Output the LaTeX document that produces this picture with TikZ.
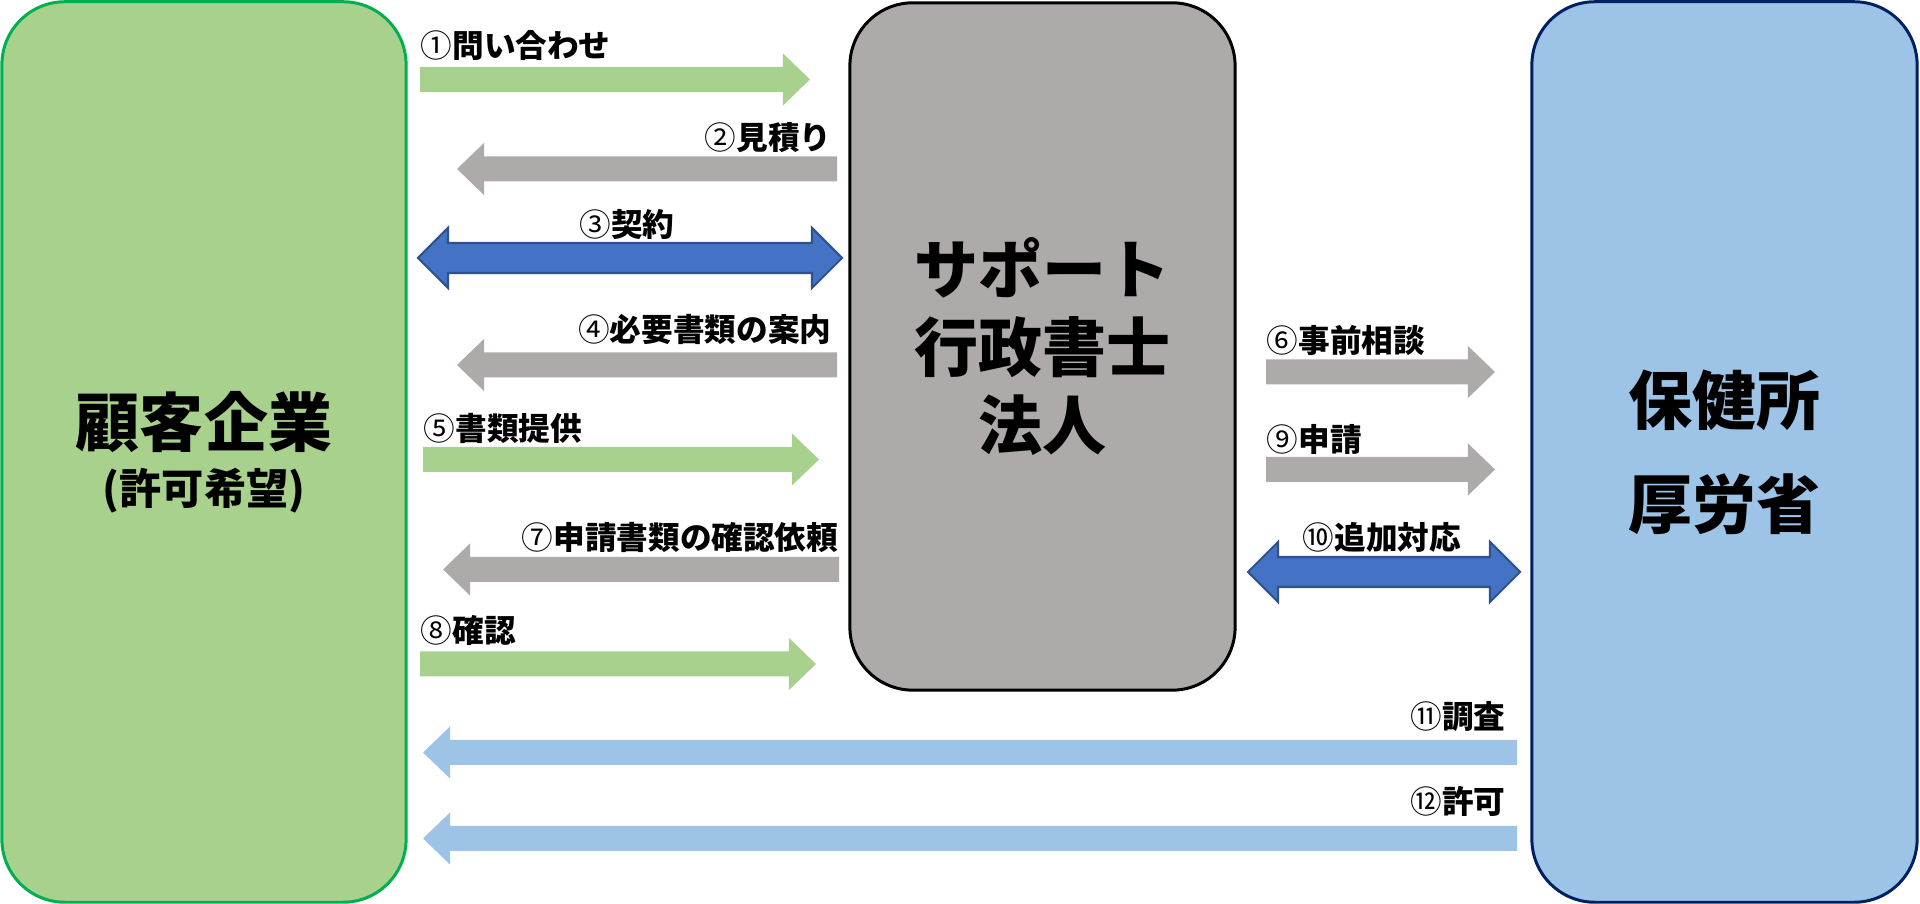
\documentclass[tikz,border=0pt]{standalone}
\usepackage{fontspec}
\setmainfont{Noto Sans CJK JP}
\usetikzlibrary{calc}

\definecolor{clientgreen}{HTML}{A9D18E}
\definecolor{clientline}{HTML}{00B050}
\definecolor{officegray}{HTML}{AEAAAA}
\definecolor{agencyblue}{HTML}{9DC3E6}
\definecolor{agencyline}{HTML}{002060}
\definecolor{dealblue}{HTML}{4472C4}
\definecolor{dealline}{HTML}{2F528F}

\tikzset{
  party/.style={draw, line width=0.85pt, rounded corners=0.63cm, align=center, inner sep=0pt},
  steplabel/.style={font=\fontsize{9pt}{11pt}\selectfont\bfseries, inner sep=0pt},
  ask/.style={fill=clientgreen},
  reply/.style={fill=officegray},
  notice/.style={fill=agencyblue},
  deal/.style={fill=dealblue, draw=dealline, line width=0.6pt},
}

% circled step number, set thin
\newcommand{\stepno}[1]{{\mdseries #1}}

% one-way block arrow: style, tail, tip
\newcommand{\flow}[3]{%
  \fill[#1] let \p1=(#2), \p2=(#3), \n1={sign(\x2-\x1)} in
    (\x1,\y1+0.125cm) -- (\x2-\n1*0.27cm,\y1+0.125cm) -- (\x2-\n1*0.27cm,\y1+0.26cm)
    -- (\x2,\y2) -- (\x2-\n1*0.27cm,\y1-0.26cm) -- (\x2-\n1*0.27cm,\y1-0.125cm)
    -- (\x1,\y1-0.125cm) -- cycle;}
% two-way block arrow: left tip, right tip
\newcommand{\deal}[2]{%
  \filldraw[deal] let \p1=(#1), \p2=(#2) in
    (\x1,\y1) -- (\x1+0.3cm,\y1+0.3cm) -- (\x1+0.3cm,\y1+0.15cm) -- (\x2-0.3cm,\y1+0.15cm)
    -- (\x2-0.3cm,\y1+0.3cm) -- (\x2,\y2) -- (\x2-0.3cm,\y1-0.3cm) -- (\x2-0.3cm,\y1-0.15cm)
    -- (\x1+0.3cm,\y1-0.15cm) -- (\x1+0.3cm,\y1-0.3cm) -- cycle;}

\begin{document}
\begin{tikzpicture}[x=0.01cm, y=-0.01cm]
\useasboundingbox (0,0) rectangle (1920,904);

% the three parties
\node[party, fill=clientgreen, draw=clientline, minimum width=4.04cm, minimum height=9.0cm,
  font=\fontsize{18.2pt}{16.5pt}\selectfont\bfseries] (client) at (204,452)
  {顧客企業\\{\fontsize{12pt}{16.5pt}\selectfont (許可希望)}};
\node[party, fill=officegray, minimum width=3.85cm, minimum height=6.87cm,
  font=\fontsize{18.2pt}{22.2pt}\selectfont\bfseries] (office) at (1042.5,346.5)
  {サポート\\行政書士\\法人};
\node[party, fill=agencyblue, draw=agencyline, minimum width=3.85cm, minimum height=9.0cm,
  font=\fontsize{18.2pt}{29.6pt}\selectfont\bfseries] (agency) at (1724.5,452)
  {保健所\\厚労省};

% arrow ends
\coordinate (s1) at (420,79.5);   \coordinate (e1) at (810,79.5);
\coordinate (s2) at (837,169);    \coordinate (e2) at (457,169);
\coordinate (s3) at (418,258);    \coordinate (e3) at (842,258);
\coordinate (s4) at (837,365);    \coordinate (e4) at (457,365);
\coordinate (s5) at (423,459.5);  \coordinate (e5) at (819,459.5);
\coordinate (s6) at (1266,372);   \coordinate (e6) at (1495,372);
\coordinate (s7) at (839,569.5);  \coordinate (e7) at (443,569.5);
\coordinate (s8) at (420,664);    \coordinate (e8) at (816,664);
\coordinate (s9) at (1266,469.5); \coordinate (e9) at (1495,469.5);
\coordinate (s10) at (1248,572);  \coordinate (e10) at (1520,572);
\coordinate (s11) at (1517,752.5);\coordinate (e11) at (423,752.5);
\coordinate (s12) at (1517,838.5);\coordinate (e12) at (423,838.5);

\flow{ask}{s1}{e1}
\flow{reply}{s2}{e2}
\deal{s3}{e3}
\flow{reply}{s4}{e4}
\flow{ask}{s5}{e5}
\flow{reply}{s6}{e6}
\flow{reply}{s7}{e7}
\flow{ask}{s8}{e8}
\flow{reply}{s9}{e9}
\deal{s10}{e10}
\flow{notice}{s11}{e11}
\flow{notice}{s12}{e12}

% step labels
\node[steplabel, anchor=west] (l1) at (420,46) {\stepno{①}問い合わせ};
\node[steplabel, anchor=east] (l2) at (832,138) {\stepno{②}見積り};
\node[steplabel] (l3) at (627,225) {\stepno{③}契約};
\node[steplabel, anchor=east] (l4) at (832,330) {\stepno{④}必要書類の案内};
\node[steplabel, anchor=west] (l5) at (423,428) {\stepno{⑤}書類提供};
\node[steplabel, anchor=west] (l6) at (1266,341) {\stepno{⑥}事前相談};
\node[steplabel, anchor=east] (l7) at (839,537) {\stepno{⑦}申請書類の確認依頼};
\node[steplabel, anchor=west] (l8) at (420,630) {\stepno{⑧}確認};
\node[steplabel, anchor=west] (l9) at (1266,439) {\stepno{⑨}申請};
\node[steplabel] (l10) at (1382,537) {\stepno{⑩}追加対応};
\node[steplabel, anchor=east] (l11) at (1506,717) {\stepno{⑪}調査};
\node[steplabel, anchor=east] (l12) at (1506,801) {\stepno{⑫}許可};
\end{tikzpicture}
\end{document}
